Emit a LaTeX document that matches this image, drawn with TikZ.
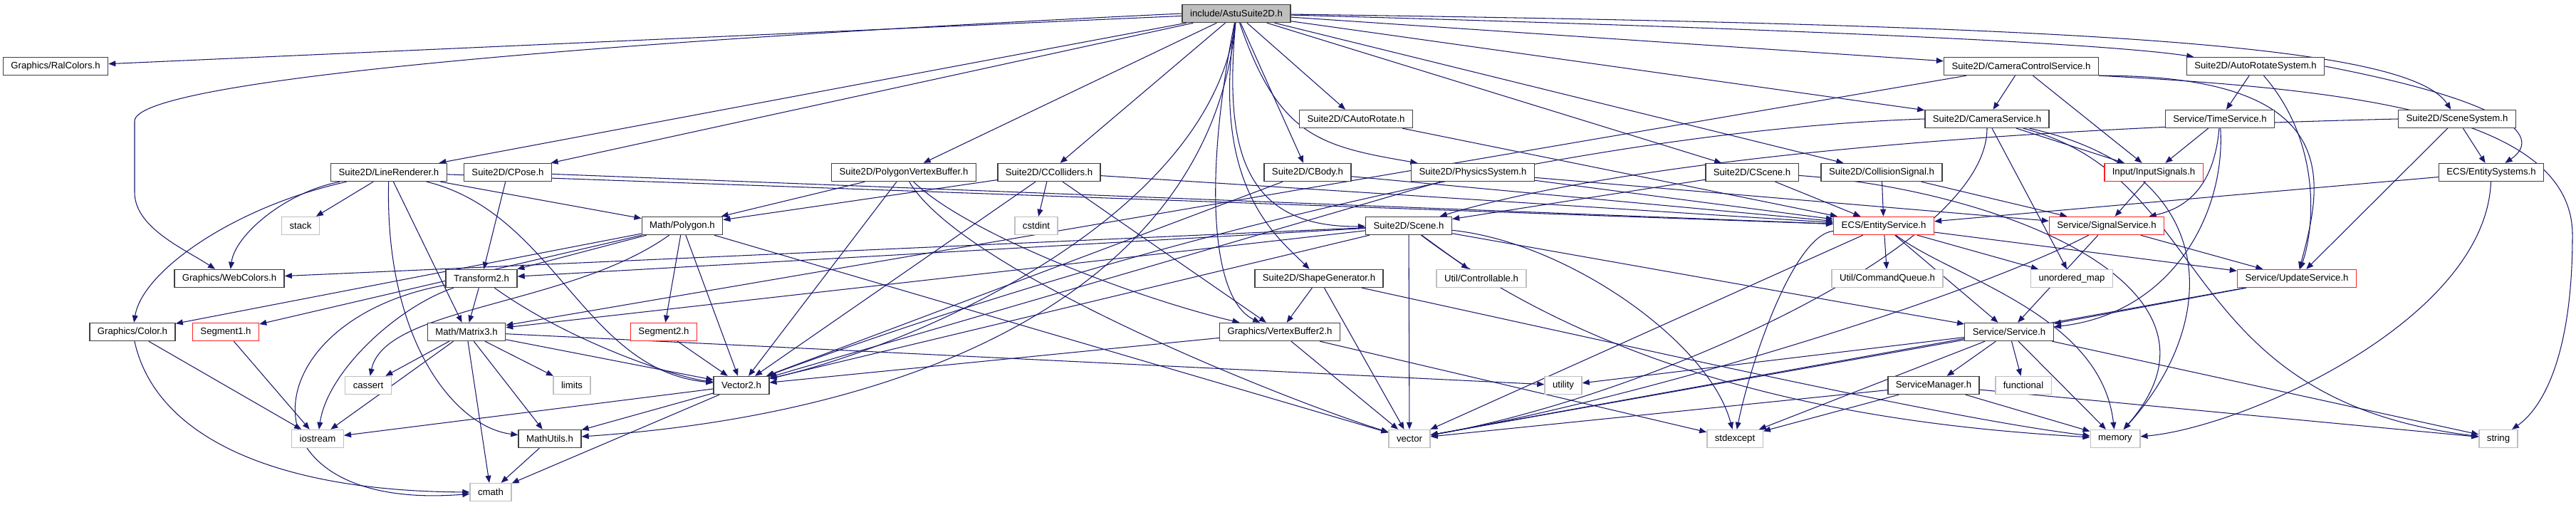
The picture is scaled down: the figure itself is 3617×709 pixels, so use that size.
\documentclass[tikz,border=0pt]{standalone}
\usepackage{fontspec}
\setmainfont{Liberation Sans}
\usetikzlibrary{arrows.meta,backgrounds}
\definecolor{edgeblue}{HTML}{191970}
\definecolor{frame}{HTML}{404040}
\definecolor{greyfill}{HTML}{BFBFBF}
\definecolor{sysline}{HTML}{BFBFBF}
\definecolor{cutline}{HTML}{FF2020}
\tikzset{
  incl/.style={
    draw=frame, fill=white, line width=0.8pt,
    inner xsep=0.22cm, inner ysep=0pt, minimum height=0.5cm,
    font=\fontsize{7.5}{9}\selectfont
  },
  topincl/.style={incl, fill=greyfill},
  sysincl/.style={incl, draw=sysline},
  cutincl/.style={incl, draw=cutline},
  dep/.style={-{Triangle[length=5.7pt,width=4.5pt]}, draw=edgeblue, line width=0.6pt}
}

\begin{document}
\begin{tikzpicture}[x=0.02cm, y=-0.02cm]
  \useasboundingbox (0,0) rectangle (3617,709);
  % headers, row by row
  \node[topincl] (top) at (1736,19) {include/AstuSuite2D.h};
  \node[incl] (ral) at (78,93) {Graphics/RalColors.h};
  \node[incl] (camctrl) at (2838,93) {Suite2D/CameraControlService.h};
  \node[incl] (autosys) at (3167,93) {Suite2D/AutoRotateSystem.h};
  \node[incl] (cauto) at (1904,167) {Suite2D/CAutoRotate.h};
  \node[incl] (camsvc) at (2790,167) {Suite2D/CameraService.h};
  \node[incl] (timesvc) at (3117,167) {Service/TimeService.h};
  \node[incl] (scenesys) at (3450,167) {Suite2D/SceneSystem.h};
  \node[incl] (lr) at (546,242) {Suite2D/LineRenderer.h};
  \node[incl] (cpose) at (713,242) {Suite2D/CPose.h};
  \node[incl] (pvb) at (1269,242) {Suite2D/PolygonVertexBuffer.h};
  \node[incl] (ccoll) at (1473,242) {Suite2D/CColliders.h};
  \node[incl] (cbody) at (1836,242) {Suite2D/CBody.h};
  \node[incl] (phys) at (2068,242) {Suite2D/PhysicsSystem.h};
  \node[incl] (cscene) at (2460,242) {Suite2D/CScene.h};
  \node[incl] (csig) at (2642,242) {Suite2D/CollisionSignal.h};
  \node[cutincl] (input) at (3024,242) {Input/InputSignals.h};
  \node[incl] (esys) at (3498,242) {ECS/EntitySystems.h};
  \node[sysincl] (stack) at (422,317) {stack};
  \node[incl] (poly) at (958,317) {Math/Polygon.h};
  \node[sysincl] (cstdint) at (1455,317) {cstdint};
  \node[incl] (scene) at (1978,317) {Suite2D/Scene.h};
  \node[cutincl] (esvc) at (2645,317) {ECS/EntityService.h};
  \node[cutincl] (ssvc) at (2958,317) {Service/SignalService.h};
  \node[incl] (web) at (322,391) {Graphics/WebColors.h};
  \node[incl] (trans2) at (676,391) {Transform2.h};
  \node[incl] (shapegen) at (1852,391) {Suite2D/ShapeGenerator.h};
  \node[sysincl] (ctrl) at (2080,391) {Util/Controllable.h};
  \node[sysincl] (cmdq) at (2650,391) {Util/CommandQueue.h};
  \node[sysincl] (umap) at (2909,391) {unordered\_map};
  \node[cutincl] (upd) at (3225,391) {Service/UpdateService.h};
  \node[incl] (color) at (186,466) {Graphics/Color.h};
  \node[cutincl] (seg1) at (317,466) {Segment1.h};
  \node[incl] (mat3) at (655,466) {Math/Matrix3.h};
  \node[cutincl] (seg2) at (932,466) {Segment2.h};
  \node[incl] (vb2) at (1797,466) {Graphics/VertexBuffer2.h};
  \node[incl] (svc) at (2821,466) {Service/Service.h};
  \node[sysincl] (cassert) at (517,541) {cassert};
  \node[sysincl] (limits) at (803,541) {limits};
  \node[incl] (vec2) at (1041,541) {Vector2.h};
  \node[sysincl] (utility) at (2195,541) {utility};
  \node[incl] (smgr) at (2715,541) {ServiceManager.h};
  \node[sysincl] (functional) at (2841,541) {functional};
  \node[sysincl] (iostream) at (446,616) {iostream};
  \node[incl] (mutils) at (772,616) {MathUtils.h};
  \node[sysincl] (vector) at (1979,616) {vector};
  \node[sysincl] (stdexcept) at (2436,616) {stdexcept};
  \node[sysincl] (memory) at (2970,616) {memory};
  \node[sysincl] (string) at (3508,616) {string};
  \node[sysincl] (cmath) at (689,691) {cmath};

  \begin{pgfonlayer}{background}
    \fill[white] (0,0) rectangle (3617,709);
    % straight includes
    \foreach \s/\t in {
      top/ral, top/lr, top/cpose, top/pvb, top/ccoll, top/cauto, top/cbody,
      top/cscene, top/csig, top/camctrl, top/camsvc,
      lr/stack, lr/mat3, lr/poly, lr/esvc,
      cpose/trans2, cpose/esvc,
      pvb/poly, pvb/vec2,
      ccoll/poly, ccoll/cstdint, ccoll/esvc, ccoll/vec2, ccoll/vb2,
      cauto/esvc, cbody/esvc, cbody/vec2,
      phys/esvc, phys/vec2, phys/ssvc,
      cscene/scene, cscene/esvc, csig/esvc, csig/ssvc,
      camctrl/camsvc, camctrl/input, camctrl/mat3,
      camsvc/input, camsvc/umap,
      autosys/timesvc, timesvc/input,
      scenesys/esys, scenesys/upd, esys/esvc,
      scene/web, scene/trans2, scene/mat3, scene/vec2, scene/ctrl,
      scene/vector, scene/svc,
      esvc/cmdq, esvc/umap, esvc/svc, esvc/vector, esvc/upd,
      ssvc/upd, ssvc/svc, input/ssvc,
      upd/svc, upd/vector,
      poly/seg1, poly/seg2, poly/color, poly/trans2, poly/vec2, poly/vector,
      trans2/mat3,
      mat3/vec2, mat3/mutils, mat3/limits, mat3/cmath, mat3/cassert,
      mat3/iostream, mat3/utility,
      vec2/mutils, vec2/cmath, vec2/iostream, mutils/cmath,
      seg1/iostream, seg2/vec2, color/iostream,
      shapegen/vb2, shapegen/vector,
      vb2/vec2, vb2/vector, vb2/stdexcept,
      svc/smgr, svc/functional, svc/memory, svc/string, svc/vector,
      svc/utility, svc/stdexcept,
      smgr/memory, smgr/stdexcept, smgr/string, smgr/vector}
      \draw[dep] (\s) -- (\t);
    % bent includes
    \draw[dep] (top.west) .. controls (900,55) and (189,110) .. (189,170)
      -- (189,270) .. controls (189,320) and (260,350) .. (web);
    \draw[dep] (top) .. controls (1795,190) and (1850,205) .. (phys);
    \draw[dep] (top) .. controls (1720,200) and (1740,320) .. (scene);
    \draw[dep] (top) .. controls (1700,260) and (1790,330) .. (shapegen);
    \draw[dep] (top) .. controls (1690,250) and (1700,420) .. (vb2);
    \draw[dep] (top) .. controls (1700,300) and (1300,480) .. (vec2);
    \draw[dep] (top) .. controls (1700,400) and (1300,580) .. (mutils);
    \draw[dep] (top) .. controls (2500,40) and (2950,60) .. (autosys);
    \draw[dep] (top) .. controls (2900,35) and (3380,60) .. (scenesys);
    \draw[dep] (lr) .. controls (400,270) and (330,330) .. (web);
    \draw[dep] (lr) .. controls (330,290) and (200,380) .. (color);
    \draw[dep] (lr) .. controls (540,480) and (640,600) .. (mutils);
    \draw[dep] (lr) .. controls (780,300) and (820,520) .. (vec2);
    \draw[dep] (pvb) .. controls (1360,330) and (1600,420) .. (vb2);
    \draw[dep] (pvb) .. controls (1350,380) and (1800,560) .. (vector);
    \draw[dep] (camctrl.south east) .. controls (3300,105) and (3260,260) .. (upd);
    \draw[dep] (camctrl.south east) .. controls (3300,125) and (3612,160) .. (3612,330)
      .. controls (3612,520) and (3560,580) .. (string);
    \draw[dep] (camsvc.west) .. controls (2300,180) and (1700,300) .. (vec2);
    \draw[dep] (camsvc) .. controls (3110,250) and (3050,560) .. (string);
    \draw[dep] (camsvc) .. controls (3120,240) and (3120,450) .. (memory);
    \draw[dep] (camsvc) .. controls (2790,350) and (2300,560) .. (vector);
    \draw[dep] (autosys.east) .. controls (3560,150) and (3560,200) .. (esys);
    \draw[dep] (autosys) .. controls (3260,200) and (3250,320) .. (upd);
    \draw[dep] (timesvc) .. controls (3125,300) and (3050,440) .. (svc);
    \draw[dep] (timesvc) .. controls (3110,250) and (3080,290) .. (ssvc);
    \draw[dep] (scenesys.west) .. controls (2600,185) and (2200,250) .. (scene);
    \draw[dep] (esys) .. controls (3490,450) and (3150,600) .. (memory);
    \draw[dep] (esvc) .. controls (2520,330) and (2460,500) .. (stdexcept);
    \draw[dep] (esvc) .. controls (2740,390) and (2950,440) .. (memory);
    \draw[dep] (ssvc) .. controls (2760,420) and (2300,560) .. (vector);
    \draw[dep] (cscene) .. controls (2800,265) and (3160,400) .. (memory);
    \draw[dep] (scene) .. controls (2300,560) and (2700,600) .. (memory);
    \draw[dep] (scene) .. controls (2200,340) and (2400,480) .. (stdexcept);
    \draw[dep] (shapegen) .. controls (2350,500) and (2750,590) .. (memory);
    \draw[dep] (poly) .. controls (800,430) and (540,430) .. (cassert);
    \draw[dep] (trans2) .. controls (800,480) and (950,530) .. (vec2);
    \draw[dep] (trans2) .. controls (560,430) and (460,520) .. (iostream);
    \draw[dep] (trans2) .. controls (350,450) and (330,720) .. (cmath);
    \draw[dep] (color) .. controls (220,620) and (400,690) .. (cmath);
  \end{pgfonlayer}
\end{tikzpicture}
\end{document}
